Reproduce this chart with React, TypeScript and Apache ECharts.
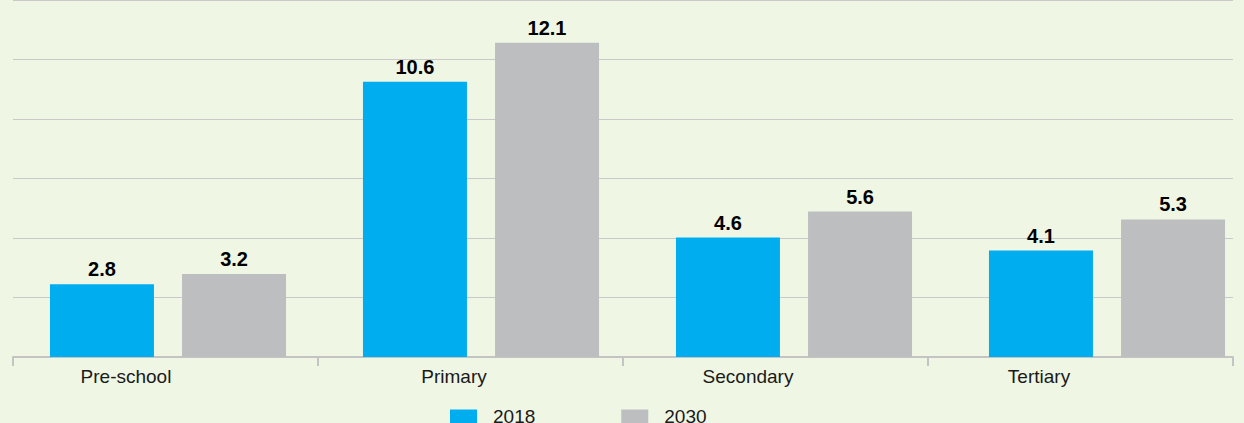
import React, { useEffect, useRef } from "react";
import * as echarts from "echarts";

const categories = ["Pre-school", "Primary", "Secondary", "Tertiary"];
const series2018 = [2.8, 10.6, 4.6, 4.1];
const series2030 = [3.2, 12.1, 5.6, 5.3];
const seriesNames = ["2018", "2030"];
// right padding per category label (shifts label left of the tick-centre, as in the source)
const labelShift = [79, 33, 55, 83];

const FONT = "'Liberation Sans', Arial, sans-serif";

export default function App() {
  const ref = useRef<HTMLDivElement>(null);
  useEffect(() => {
    document.body.style.margin = "0";
    const chart = echarts.init(ref.current!, undefined, { renderer: "svg" });
    const rich: Record<string, any> = {};
    categories.forEach((_, i) => {
      rich["c" + i] = {
        fontSize: 19,
        fontFamily: FONT,
        color: "#1a1a1a",
        padding: [0, labelShift[i], 0, 0],
      };
    });
    const valueLabel = {
      show: true,
      position: "top",
      distance: 5,
      fontSize: 20,
      fontWeight: "bold",
      fontFamily: FONT,
      color: "#000",
    };
    chart.setOption({
      animation: false,
      backgroundColor: "#eff6e4",
      textStyle: { fontFamily: FONT },
      legend: {
        data: seriesNames,
        left: 450,
        top: 407,
        padding: 0,
        itemWidth: 27,
        itemHeight: 14,
        itemGap: 86,
        icon: "rect",
        textStyle: {
          fontSize: 19,
          fontFamily: FONT,
          color: "#1a1a1a",
          padding: [0, 0, 0, 11],
        },
      },
      grid: [
        // bar grid: categories placed on ticks (first bar pair centred at 168, pitch 313)
        { left: 168, right: 137, top: 0, bottom: 66, containLabel: false },
        // axis / gridline grid
        { left: 13, right: 11, top: -5, bottom: 66, containLabel: false },
      ],
      xAxis: [
        {
          type: "category",
          gridIndex: 0,
          data: categories,
          boundaryGap: false,
          axisLine: { show: false },
          axisTick: { show: false },
          axisLabel: { show: false },
          splitLine: { show: false },
        },
        {
          type: "category",
          gridIndex: 1,
          data: categories,
          axisLine: { show: true, lineStyle: { color: "#c4c4c4", width: 2 } },
          axisTick: { show: true, length: 9, lineStyle: { color: "#c4c4c4", width: 2 } },
          axisLabel: {
            margin: 10,
            formatter: (v: string) => {
              const i = categories.indexOf(v);
              return "{c" + i + "|" + v + "}";
            },
            rich,
          },
          splitLine: { show: false },
        },
      ],
      yAxis: [
        {
          type: "value",
          gridIndex: 0,
          min: 0,
          max: 13.75,
          axisLine: { show: false },
          axisTick: { show: false },
          axisLabel: { show: false },
          splitLine: { show: false },
        },
        {
          type: "value",
          gridIndex: 1,
          min: 0,
          max: 6,
          interval: 1,
          axisLine: { show: false },
          axisTick: { show: false },
          axisLabel: { show: false },
          splitLine: { show: true, lineStyle: { color: "#c9c9c9", width: 1 } },
        },
      ],
      series: [
        {
          name: seriesNames[0],
          type: "bar",
          xAxisIndex: 0,
          yAxisIndex: 0,
          data: series2018,
          barWidth: 104,
          barGap: "27%",
          itemStyle: { color: "#00aeef" },
          label: valueLabel,
        },
        {
          name: seriesNames[1],
          type: "bar",
          xAxisIndex: 0,
          yAxisIndex: 0,
          data: series2030,
          barWidth: 104,
          barGap: "27%",
          itemStyle: { color: "#bdbec0" },
          label: valueLabel,
        },
      ],
    });
    return () => chart.dispose();
  }, []);
  return <div ref={ref} style={{ width: 1244, height: 423 }} />;
}
